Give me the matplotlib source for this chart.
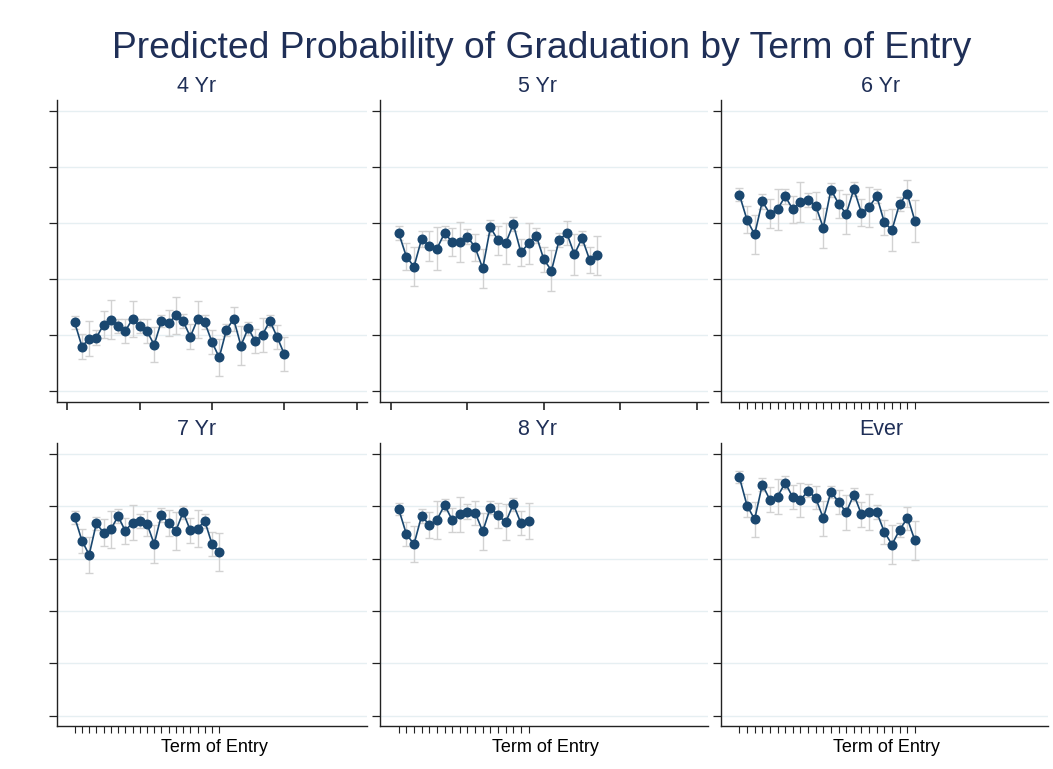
import matplotlib
matplotlib.use("Agg")
import matplotlib.pyplot as plt

plt.rcParams['font.family'] = ['Liberation Sans', 'DejaVu Sans']

# ---------------- data ----------------
main_title = "Predicted Probability of Graduation by Term of Entry"
panel_titles = ["4 Yr", "5 Yr", "6 Yr", "7 Yr", "8 Yr", "Ever"]
x_label = "Term of Entry"
y_ticks = [0.0, 0.2, 0.4, 0.6, 0.8, 1.0]
major_x_ticks = [0, 10, 20, 30, 40]

prob_4yr = [0.244, 0.158, 0.186, 0.190, 0.236, 0.254, 0.231, 0.213, 0.257, 0.231,
            0.213, 0.164, 0.249, 0.242, 0.269, 0.249, 0.193, 0.255, 0.244, 0.174,
            0.119, 0.218, 0.256, 0.161, 0.223, 0.177, 0.200, 0.250, 0.193, 0.131]
ci_4yr = [0.024, 0.044, 0.063, 0.026, 0.049, 0.069, 0.025, 0.044, 0.065, 0.025,
          0.043, 0.063, 0.022, 0.047, 0.065, 0.024, 0.044, 0.066, 0.025, 0.043,
          0.066, 0.022, 0.044, 0.070, 0.024, 0.043, 0.060, 0.022, 0.043, 0.062]

prob_5yr = [0.563, 0.479, 0.443, 0.542, 0.517, 0.507, 0.563, 0.531, 0.531, 0.550,
            0.512, 0.437, 0.583, 0.538, 0.526, 0.595, 0.494, 0.526, 0.554, 0.469,
            0.429, 0.538, 0.563, 0.487, 0.545, 0.467, 0.483]
ci_5yr = [0.024, 0.049, 0.069, 0.027, 0.052, 0.076, 0.026, 0.049, 0.071, 0.027,
          0.049, 0.070, 0.026, 0.052, 0.073, 0.025, 0.048, 0.072, 0.026, 0.045,
          0.074, 0.024, 0.043, 0.073, 0.024, 0.048, 0.069]

prob_6yr = [0.700, 0.610, 0.558, 0.676, 0.632, 0.648, 0.694, 0.648, 0.674, 0.681,
            0.661, 0.581, 0.718, 0.668, 0.631, 0.720, 0.635, 0.656, 0.695, 0.601,
            0.574, 0.668, 0.704, 0.606]
ci_6yr = [0.024, 0.048, 0.068, 0.026, 0.051, 0.073, 0.026, 0.048, 0.070, 0.026,
          0.048, 0.071, 0.025, 0.050, 0.070, 0.026, 0.048, 0.071, 0.025, 0.046,
          0.076, 0.025, 0.048, 0.074]

prob_7yr = [0.758, 0.669, 0.615, 0.735, 0.699, 0.712, 0.762, 0.706, 0.738, 0.744,
            0.734, 0.656, 0.767, 0.736, 0.706, 0.778, 0.708, 0.715, 0.744, 0.656,
            0.625]
ci_7yr = [0.025, 0.046, 0.068, 0.025, 0.051, 0.072, 0.026, 0.048, 0.068, 0.026,
          0.048, 0.071, 0.025, 0.049, 0.071, 0.025, 0.047, 0.071, 0.026, 0.045,
          0.073]

prob_8yr = [0.789, 0.694, 0.655, 0.764, 0.729, 0.748, 0.805, 0.748, 0.769, 0.780,
            0.776, 0.704, 0.795, 0.766, 0.739, 0.808, 0.736, 0.744]
ci_8yr = [0.024, 0.046, 0.069, 0.027, 0.050, 0.071, 0.024, 0.046, 0.068, 0.027,
          0.046, 0.070, 0.024, 0.048, 0.068, 0.024, 0.047, 0.070]

prob_ever = [0.911, 0.803, 0.750, 0.883, 0.825, 0.837, 0.890, 0.834, 0.824, 0.859,
             0.832, 0.754, 0.855, 0.817, 0.777, 0.845, 0.769, 0.778, 0.778, 0.702,
             0.654, 0.710, 0.754, 0.670]
ci_ever = [0.023, 0.044, 0.066, 0.024, 0.048, 0.068, 0.025, 0.046, 0.066, 0.025,
           0.044, 0.068, 0.024, 0.046, 0.068, 0.024, 0.047, 0.069, 0.026, 0.046,
           0.073, 0.027, 0.043, 0.074]

series = [(prob_4yr, ci_4yr), (prob_5yr, ci_5yr), (prob_6yr, ci_6yr),
          (prob_7yr, ci_7yr), (prob_8yr, ci_8yr), (prob_ever, ci_ever)]
# panels whose x axis uses the coarse major ticks (otherwise one tick per term)
major_tick_panels = [0, 1]

# ---------------- style ----------------
W, H = 1053, 769
NAVY = "#1a476f"
TITLE_COL = "#1f2f57"
CI_COL = "#d2d2d2"
GRID_COL = "#e6eff2"

fig = plt.figure(figsize=(W / 100, H / 100), dpi=100)

col_px = [(57, 367), (380, 707.7), (720.7, 1048)]
title_cx = [197, 538, 881]
xlabel_cx = [214, 545.5, 886]
row_px = [(100, 402), (442.7, 726)]
row_ylim = [(-0.040, 1.038), (-0.039, 1.043)]

for i, (vals, ci) in enumerate(series):
    r, c = divmod(i, 3)
    x0, x1 = col_px[c]
    y0, y1 = row_px[r]
    ax = fig.add_axes([x0 / W, 1 - y1 / H, (x1 - x0) / W, (y1 - y0) / H])
    terms = list(range(1, len(vals) + 1))

    ax.errorbar(terms, vals, yerr=ci, fmt='none', ecolor=CI_COL,
                elinewidth=1.0, capsize=3.2, capthick=1.0, zorder=2)
    ax.plot(terms, vals, '-', color=NAVY, lw=1.2, zorder=3)
    ax.plot(terms, vals, 'o', color=NAVY, ms=6.2, zorder=4)

    ax.set_xlim(-1.45, 41.45)
    ax.set_ylim(*row_ylim[r])
    ax.set_yticks(y_ticks)
    ax.set_yticklabels([])
    ax.grid(axis='y', color=GRID_COL, lw=1.0)
    ax.set_axisbelow(True)
    for s in ['top', 'right']:
        ax.spines[s].set_visible(False)
    for s in ['left', 'bottom']:
        ax.spines[s].set_color('#222222')
        ax.spines[s].set_linewidth(1.0)
    ax.tick_params(axis='y', length=5.5, width=0.9, color='#222222')

    if i in major_tick_panels:
        ax.set_xticks(major_x_ticks)
        ax.tick_params(axis='x', length=5.5, width=1.4, color='#444444')
    else:
        ax.set_xticks(terms)
        ax.tick_params(axis='x', length=5.0, width=0.8, color='#222222')
    ax.set_xticklabels([])

    fig.text(title_cx[c] / W, 1 - (y0 - 7.5) / H, panel_titles[i], ha='center',
             va='baseline', fontsize=15.5, color=TITLE_COL)
    if r == 1:
        fig.text(xlabel_cx[c] / W, 1 - 752 / H, x_label, ha='center', va='baseline',
                 fontsize=13, color='black')

fig.text(542 / W, 1 - 58 / H, main_title, ha='center', va='baseline',
         fontsize=26.8, color=TITLE_COL)

fig.savefig("out.png", dpi=100, facecolor='white')
